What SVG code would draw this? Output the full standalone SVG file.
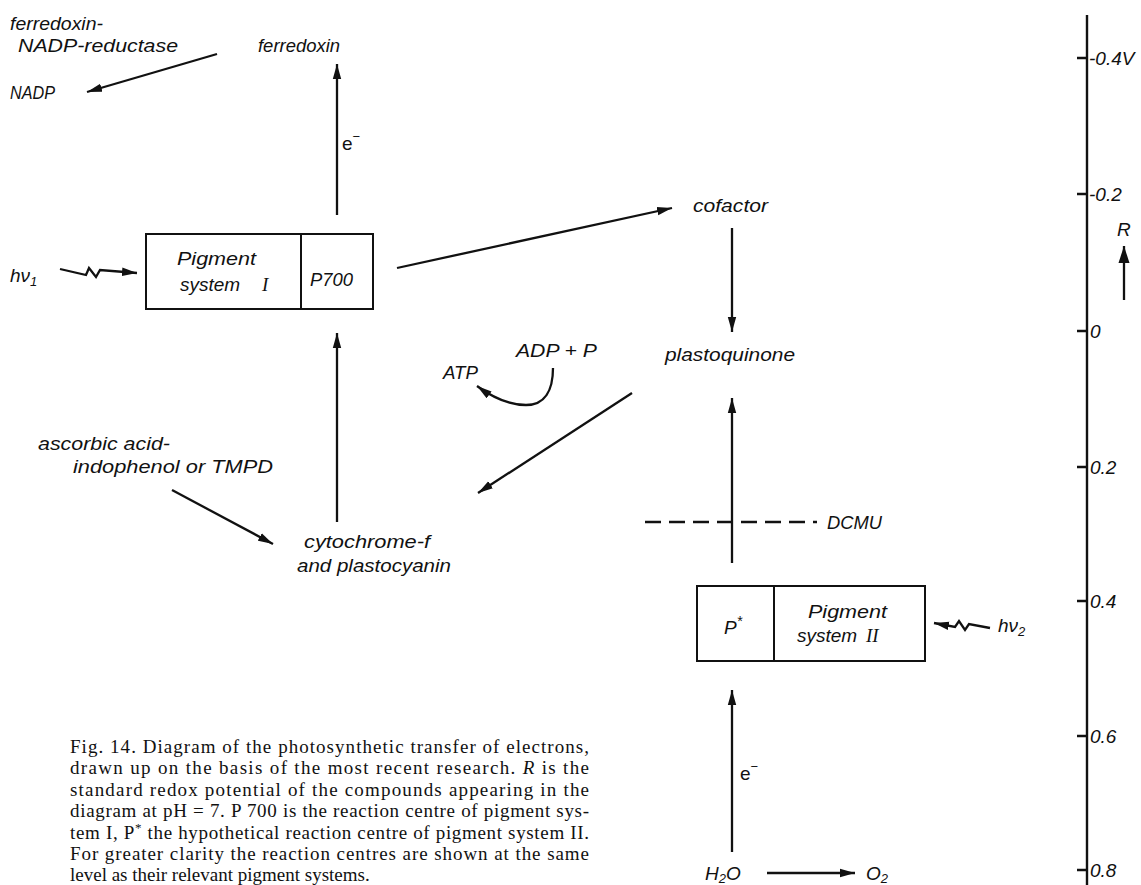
<svg xmlns="http://www.w3.org/2000/svg" width="1141" height="885" viewBox="0 0 1141 885">
<style>
.lbl{font-family:"Liberation Sans",Arial,sans-serif;font-style:italic;font-size:19px;fill:#111}
.cap{font-family:"Liberation Serif","Times New Roman",serif;font-size:19px;fill:#111}
.ln{fill:none;stroke:#111;stroke-width:2.3}
.box{fill:#fff;stroke:#111;stroke-width:2}
.ax{fill:none;stroke:#111;stroke-width:2.4}
</style>
<defs>
<marker id="ah" markerUnits="userSpaceOnUse" markerWidth="16" markerHeight="10" refX="15" refY="5" orient="auto">
<path d="M0,0.8 L15,5 L0,9.2 Z" fill="#111"/>
</marker>
<marker id="ahb" markerUnits="userSpaceOnUse" markerWidth="18" markerHeight="12" refX="17" refY="6" orient="auto">
<path d="M0,0.5 L17,6 L0,11.5 Z" fill="#111"/>
</marker>
</defs>
<rect width="1141" height="885" fill="#fff"/>

<g id="connectors">
<path class="ln" d="M217,54 L87,92" marker-end="url(#ah)"/>
<path class="ln" d="M337,215 L337,64" marker-end="url(#ah)"/>
<path class="ln" d="M60,269 L86,275 L89,268 L96,277 L100,270 L137,273" marker-end="url(#ah)"/>
<path class="ln" d="M397,268 L672,208" marker-end="url(#ah)"/>
<path class="ln" d="M732,228 L732,332" marker-end="url(#ah)"/>
<path class="ln" d="M553,368 C553,390 545,405 526,405 C508,405 492,397 477,386" marker-end="url(#ah)"/>
<path class="ln" d="M632,393 L478,493" marker-end="url(#ah)"/>
<path class="ln" d="M172,490 L273,544" marker-end="url(#ah)"/>
<path class="ln" d="M337,522 L337,333" marker-end="url(#ah)"/>
<path class="ln" d="M732,563 L732,398" marker-end="url(#ah)"/>
<path class="ln" d="M645,522 L817,522" stroke-dasharray="16 8"/>
<path class="ln" d="M990,628 L969,624 L965,630 L959,621 L955,627 L934,623" marker-end="url(#ah)"/>
<path class="ln" d="M732,852 L732,690" marker-end="url(#ah)"/>
<path class="ln" d="M767,873 L855,873" marker-end="url(#ah)"/>
</g>

<g id="fnr"><text class="lbl" x="10" y="30" textLength="93" lengthAdjust="spacingAndGlyphs">ferredoxin-</text><text class="lbl" x="18" y="52" textLength="160" lengthAdjust="spacingAndGlyphs">NADP-reductase</text></g>
<g id="nadp"><text class="lbl" x="10" y="99" textLength="45" lengthAdjust="spacingAndGlyphs">NADP</text></g>
<g id="ferredoxin"><text class="lbl" x="258" y="52" textLength="82" lengthAdjust="spacingAndGlyphs">ferredoxin</text></g>
<g id="e1"><text x="342" y="150" font-family="Liberation Sans,Arial,sans-serif" font-size="19" fill="#111">e<tspan font-size="13" dy="-9">−</tspan></text></g>
<g id="hv1"><text class="lbl" x="10" y="282">hν<tspan font-size="13" dy="4">1</tspan></text></g>

<g id="ps1">
<rect class="box" x="146" y="234" width="227" height="75"/>
<line x1="301" y1="234" x2="301" y2="309" stroke="#111" stroke-width="2"/>
<text class="lbl" x="177" y="265" textLength="79" lengthAdjust="spacingAndGlyphs">Pigment</text>
<text class="lbl" x="180" y="291">system<tspan x="262" font-family="Liberation Serif,serif" font-size="19">I</tspan></text>
<text class="lbl" x="310" y="286" textLength="43" lengthAdjust="spacingAndGlyphs">P700</text>
</g>

<g id="cofactor"><text class="lbl" x="693" y="212" textLength="75" lengthAdjust="spacingAndGlyphs">cofactor</text></g>
<g id="plastoquinone"><text class="lbl" x="665" y="361" textLength="130" lengthAdjust="spacingAndGlyphs">plastoquinone</text></g>
<g id="adp"><text class="lbl" x="516" y="357" textLength="81" lengthAdjust="spacingAndGlyphs">ADP + P</text></g>
<g id="atp"><text class="lbl" x="443" y="379" textLength="35" lengthAdjust="spacingAndGlyphs">ATP</text></g>
<g id="ascorbic"><text class="lbl" x="38" y="450" textLength="132" lengthAdjust="spacingAndGlyphs">ascorbic acid-</text><text class="lbl" x="73" y="473" textLength="200" lengthAdjust="spacingAndGlyphs">indophenol or TMPD</text></g>
<g id="cytochrome"><text class="lbl" x="304" y="548" textLength="126" lengthAdjust="spacingAndGlyphs">cytochrome-f</text><text class="lbl" x="297" y="572" textLength="154" lengthAdjust="spacingAndGlyphs">and plastocyanin</text></g>
<g id="dcmu"><text class="lbl" x="827" y="529" textLength="55" lengthAdjust="spacingAndGlyphs">DCMU</text></g>

<g id="ps2">
<rect class="box" x="697" y="586" width="228" height="75"/>
<line x1="774" y1="586" x2="774" y2="661" stroke="#111" stroke-width="2"/>
<text class="lbl" x="724" y="634">P<tspan font-size="14" dy="-8">*</tspan></text>
<text class="lbl" x="808" y="618" textLength="79" lengthAdjust="spacingAndGlyphs">Pigment</text>
<text class="lbl" x="797" y="642">system<tspan x="866" font-family="Liberation Serif,serif" font-size="19">II</tspan></text>
</g>
<g id="hv2"><text class="lbl" x="998" y="632">hν<tspan font-size="13" dy="4">2</tspan></text></g>
<g id="e2"><text x="740" y="780" font-family="Liberation Sans,Arial,sans-serif" font-size="19" fill="#111">e<tspan font-size="13" dy="-9">−</tspan></text></g>
<g id="h2o"><text class="lbl" x="705" y="880">H<tspan font-size="13" dy="3">2</tspan><tspan dy="-3">O</tspan></text></g>
<g id="o2"><text class="lbl" x="866" y="880">O<tspan font-size="13" dy="3">2</tspan></text></g>

<g id="axis">
<line class="ax" x1="1087" y1="15" x2="1087" y2="885"/>
<path class="ax" d="M1077,58 H1087 M1077,194 H1087 M1077,331 H1087 M1077,467 H1087 M1077,601 H1087 M1077,736 H1087 M1077,870 H1087"/>
<text class="lbl" x="1089" y="65">-0.4V</text>
<text class="lbl" x="1089" y="201">-0.2</text>
<text class="lbl" x="1090" y="338">0</text>
<text class="lbl" x="1090" y="474">0.2</text>
<text class="lbl" x="1090" y="608">0.4</text>
<text class="lbl" x="1090" y="743">0.6</text>
<text class="lbl" x="1090" y="877">0.8</text>
<text class="lbl" x="1117" y="236">R</text>
<path class="ln" d="M1124,300 L1124,246" stroke-width="2.8" marker-end="url(#ahb)"/>
</g>

<g id="caption">
<text class="cap" x="70" y="753" textLength="519" lengthAdjust="spacing">Fig. 14. Diagram of the photosynthetic transfer of electrons,</text>
<text class="cap" x="70" y="774" textLength="519" lengthAdjust="spacing">drawn up on the basis of the most recent research. <tspan font-style="italic">R</tspan> is the</text>
<text class="cap" x="70" y="796" textLength="519" lengthAdjust="spacing">standard redox potential of the compounds appearing in the</text>
<text class="cap" x="70" y="817" textLength="519" lengthAdjust="spacing">diagram at pH = 7. P 700 is the reaction centre of pigment sys-</text>
<text class="cap" x="70" y="839" textLength="519" lengthAdjust="spacing">tem I, P<tspan font-size="13" dy="-7">*</tspan><tspan dy="7"> the hypothetical reaction centre of pigment system II.</tspan></text>
<text class="cap" x="70" y="860" textLength="519" lengthAdjust="spacing">For greater clarity the reaction centres are shown at the same</text>
<text class="cap" x="70" y="881">level as their relevant pigment systems.</text>
</g>
</svg>
